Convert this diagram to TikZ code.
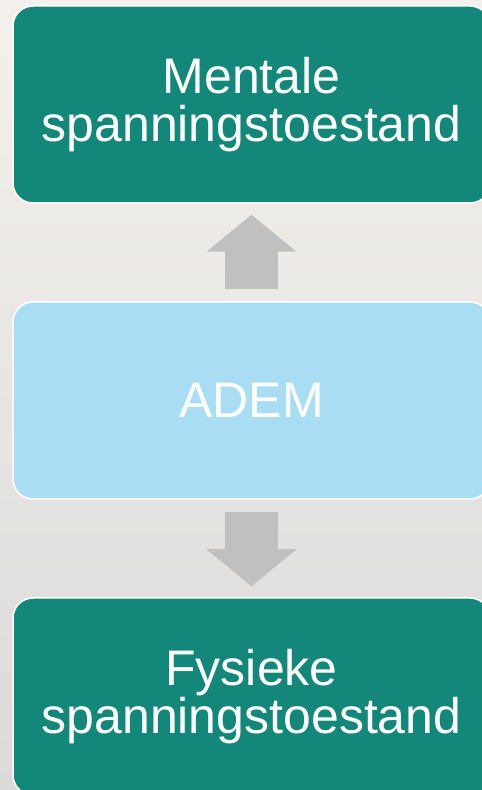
\documentclass[tikz,border=0pt]{standalone}
\usepackage{fontspec}
\setmainfont{Liberation Sans}
\usetikzlibrary{positioning,arrows.meta}

\begin{document}
\begin{tikzpicture}[x=1pt, y=1pt,
  box/.style = {draw = white, line width = 1.5pt, rounded corners = 20pt,
    minimum width = 477pt, minimum height = 197pt, inner sep = 0pt,
    text = white, align = center, font = \fontsize{50}{48}\selectfont},
  blockarrow/.style = {draw = greyArrow, line width = 53pt,
    -{Triangle[width = 88pt, length = 37pt]},
    shorten < = 12pt, shorten > = 11pt}]

\definecolor{bgTop}{HTML}{f4f1ec}
\definecolor{bgMid}{HTML}{e7e5e2}
\definecolor{bgBottom}{HTML}{dbdad9}
\definecolor{tealBox}{HTML}{13877a}
\definecolor{blueBox}{HTML}{a8ddf3}
\definecolor{greyArrow}{HTML}{c0c0c0}

\useasboundingbox (0,0) rectangle (482,790);
\clip (0,0) rectangle (482,790);
\shade[top color = bgTop, middle color = bgMid, bottom color = bgBottom] (0,0) rectangle (482,790);

\node[box, fill = tealBox] (mentaal) at (251.5, 685.5) {Mentale\\spanningstoestand};
\node[box, fill = blueBox, below = 97.5pt of mentaal] (adem) {ADEM};
\node[box, fill = tealBox, below = 97.5pt of adem] (fysiek) {Fysieke\\spanningstoestand};

\draw[blockarrow] (adem.north) -- (mentaal.south);
\draw[blockarrow] (adem.south) -- (fysiek.north);
\end{tikzpicture}
\end{document}
